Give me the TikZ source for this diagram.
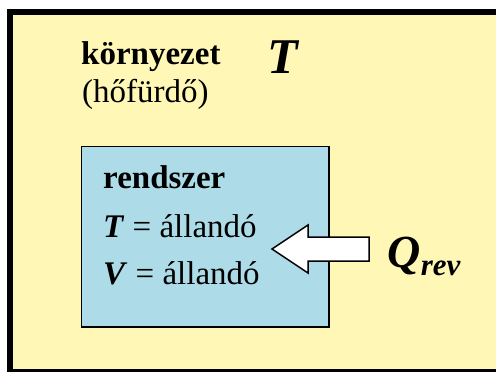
\documentclass[tikz,border=0pt]{standalone}
\usepackage{fontspec}
\setmainfont{Liberation Serif}
\definecolor{envyellow}{RGB}{255,247,181}
\definecolor{sysblue}{RGB}{173,220,232}
\begin{document}
\begin{tikzpicture}[x=1pt,y=-1pt,
  txt/.style={anchor=base west,inner sep=0pt,font=\fontsize{33}{33}\selectfont},
  bigsym/.style={anchor=base west,inner sep=0pt}]
\useasboundingbox (0,0) rectangle (496,372);
\clip (0,0) rectangle (496,372);
\fill[white] (0,0) rectangle (496,372);
\draw[line width=6pt,fill=envyellow] (10,12) rectangle (505,372);
\node[draw,line width=1.5pt,fill=sysblue,minimum width=247.5pt,minimum height=180.5pt,anchor=north west,inner sep=0pt] (sys) at (80.5,145.5) {};
\node[txt] (env) at (81,64) {\textbf{környezet}};
\node[txt] (bath) at (82,102) {(hőfürdő)};
\node[bigsym,font=\fontsize{50}{50}\selectfont] (Tenv) at (267,73) {\textbf{\textit{T}}};
\node[txt] (rsz) at (103,188) {\textbf{rendszer}};
\node[txt] (Tc) at (103,237) {\textbf{\textit{T}} = állandó};
\node[txt] (Vc) at (103,284) {\textbf{\textit{V}} = állandó};
\draw[line width=1.5pt,fill=white] (369,237) -- (308,237) -- (308,225) -- (272,249) -- (308,273) -- (308,261) -- (369,261) -- cycle;
\node[bigsym,font=\fontsize{46}{46}\selectfont] (Q) at (387,267) {\textbf{\textit{Q}}};
\node[bigsym,font=\fontsize{31}{31}\selectfont] (rev) at (Q.base east) [yshift=-8pt] {\textbf{\textit{rev}}};
\end{tikzpicture}
\end{document}
